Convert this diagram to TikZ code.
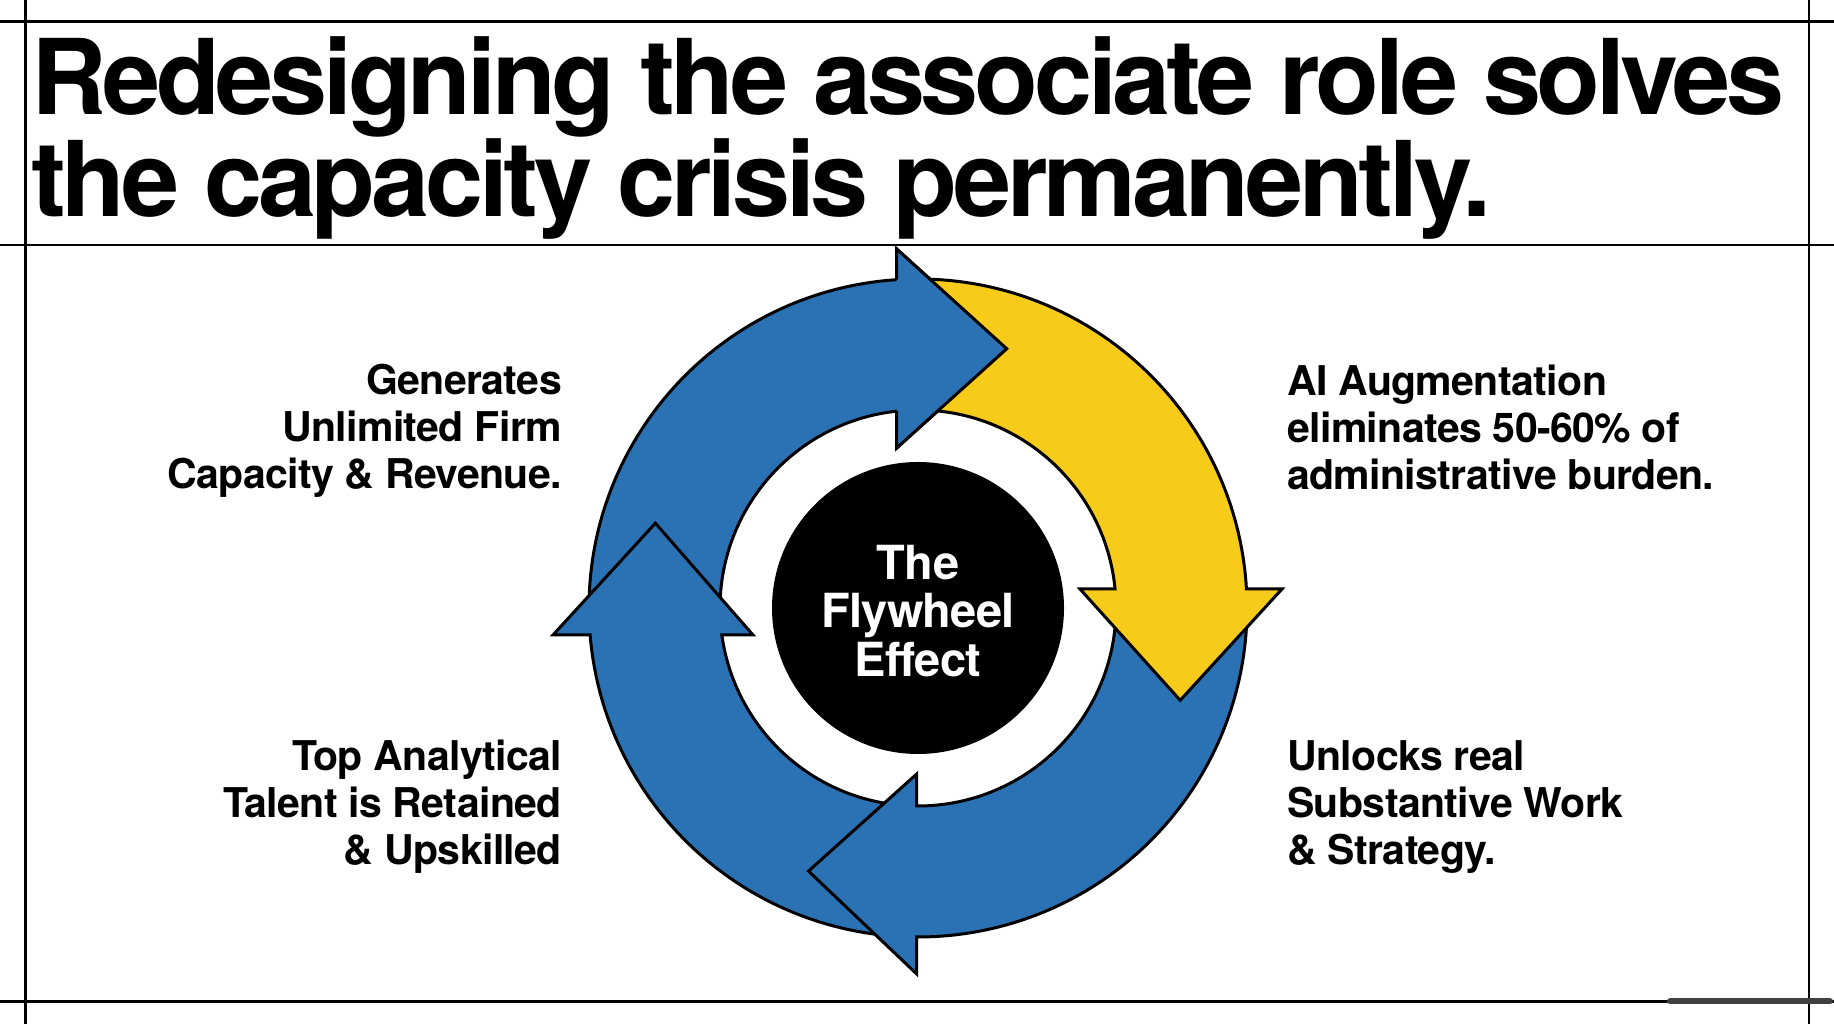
\documentclass[tikz,border=0pt]{standalone}
\usepackage{fontspec}
\setmainfont{TeX Gyre Heros}
\newfontfamily\titlefont[LetterSpace=-4.1]{TeX Gyre Heros}
\newfontfamily\labelfont[LetterSpace=-1.5]{TeX Gyre Heros}
\definecolor{fwblue}{RGB}{43,114,181}
\definecolor{fwyellow}{RGB}{246,203,26}
\begin{document}
\begin{tikzpicture}[x=1pt,y=1pt,
  frame/.style={line width=2.8pt, draw=black},
  ring/.style={draw=black, line width=3pt, line join=miter, miter limit=10},
  headline/.style={anchor=base west, inner sep=0pt, align=left,
    font=\titlefont\bfseries\fontsize{104.5}{102}\selectfont},
  lbl/.style={inner sep=0pt, font=\labelfont\bfseries\fontsize{41}{47}\selectfont},
  lblleft/.style={lbl, anchor=base east, align=right},
  lblright/.style={lbl, anchor=base west, align=left},
  hub/.style={circle, fill=black, minimum size=292pt, inner sep=0pt},
  hubtext/.style={inner sep=0pt, align=center, text=white,
    font=\labelfont\bfseries\fontsize{47}{48.5}\selectfont}
]
\useasboundingbox (0,0) rectangle (1834,1024);
\fill[white] (0,0) rectangle (1834,1024);

% frame lines
\draw[frame] (25.7,0) -- (25.7,1024);
\draw[frame] (1809,0) -- (1809,1024);
\draw[frame] (0,1002.3) -- (1834,1002.3);
\draw[frame] (0,779) -- (1834,779);
\draw[frame] (0,22.5) -- (1834,22.5);
\draw[line width=6pt, black!75, line cap=round] (1670,22.5) -- (1830,22.5);

% title
\node[headline] (title) at (31,807) {Redesigning the associate role solves\\the capacity crisis permanently.};

% flywheel ring
\begin{scope}[shift={(918,416)}]
  % top arrow (blue)
  \path[ring, fill=fwblue] (180:329pt) arc[start angle=180, end angle=93.71, radius=329pt]
    -- (-21.3,359) -- (71.1:274pt) -- (-21.3,160) -- (96.18:198pt)
    arc[start angle=96.18, end angle=180, radius=198pt] -- cycle;
  % left arrow (blue)
  \path[ring, fill=fwblue] (-95:329pt) arc[start angle=-95, end angle=-175.29, radius=329pt]
    -- (-365,-27) -- (162.1:276pt) -- (-165,-27) -- (-172.16:198pt)
    arc[start angle=-172.16, end angle=-95, radius=198pt] -- cycle;
  % bottom arrow (blue)
  \path[ring, fill=fwblue] (0:329pt) arc[start angle=0, end angle=-90.23, radius=329pt]
    -- (-1.3,-366) -- (-112.6:285pt) -- (-1.3,-166) -- (-90.38:198pt)
    arc[start angle=-90.38, end angle=0, radius=198pt] -- cycle;
  % right arrow (yellow)
  \path[ring, fill=fwyellow] (90:329pt) arc[start angle=90, end angle=3.31, radius=329pt]
    -- (364,19) -- (-19.4:278pt) -- (162,19) -- (5.51:198pt)
    arc[start angle=5.51, end angle=90, radius=198pt] -- cycle;
  % top arrow head again, over the yellow tail
  \fill[fwblue] (-21.3,359) -- (71.1:274pt) -- (-21.3,160) -- cycle;
  \draw[ring] (93.71:329pt) -- (-21.3,359) -- (71.1:274pt) -- (-21.3,160) -- (96.18:198pt);

  \node[hub] (hub) at (0,0) {};
\end{scope}
\node[hubtext] (hubtext) at ([yshift=-3pt]hub.center) {The\\Flywheel\\Effect};

% labels
\node[lblleft] (gen) at (562,535) {Generates\\Unlimited Firm\\Capacity \& Revenue.};
\node[lblleft] (talent) at (562,159) {Top Analytical\\Talent is Retained\\\& Upskilled};
\node[lblright] (ai) at (1287,534) {AI Augmentation\\eliminates 50-60\% of\\administrative burden.};
\node[lblright] (work) at (1287,159) {Unlocks real\\Substantive Work\\\& Strategy.};
\end{tikzpicture}
\end{document}
